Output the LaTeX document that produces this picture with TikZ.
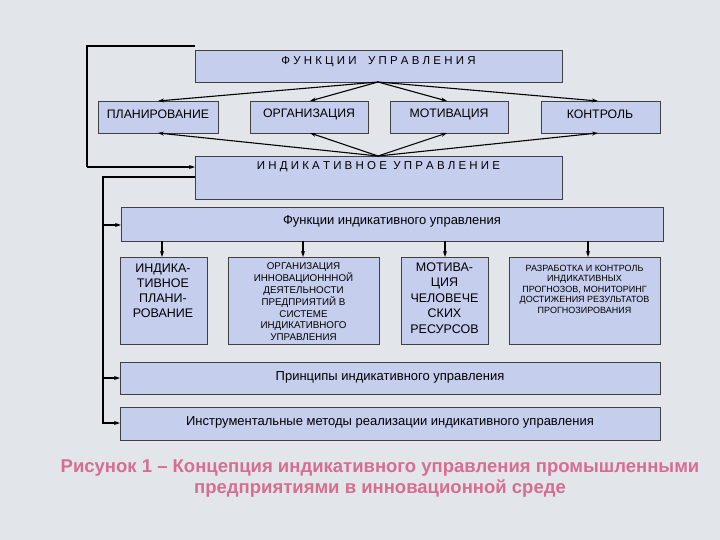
\documentclass[tikz,border=0pt]{standalone}
\usepackage{fontspec}
\setmainfont{Liberation Sans}
\usetikzlibrary{arrows.meta}
\definecolor{bg}{RGB}{226,230,234}
\definecolor{bx}{RGB}{198,206,238}
\definecolor{cap}{RGB}{214,110,145}
\begin{document}
\begin{tikzpicture}[x=1pt,y=-1pt,
  bxs/.style={draw=black!75,line width=0.7pt,fill=bx},
  arr/.style={-{Stealth[length=6pt,width=4pt]},line width=1.1pt},
  ln/.style={line width=1.1pt}]
\fill[bg] (0,0) rectangle (720,540);
\useasboundingbox (0,0) rectangle (720,540);
% top boxes
\draw[bxs] (195,50) rectangle (562,82);
\node (F) at (378.5,62) {\fontsize{11.5}{13}\selectfont Ф У Н К Ц И И\quad У П Р А В Л Е Н И Я};
\coordinate (Fb) at (378,82);
\draw[bxs] (98,101) rectangle (218,133); \node at (158,114) {\fontsize{12.3}{14}\selectfont ПЛАНИРОВАНИЕ};
\draw[bxs] (250,101) rectangle (368,133); \node at (309,114) {\fontsize{12.3}{14}\selectfont ОРГАНИЗАЦИЯ};
\draw[bxs] (390,101) rectangle (508,133); \node at (449,114) {\fontsize{12.3}{14}\selectfont МОТИВАЦИЯ};
\draw[bxs] (541,101) rectangle (660,133); \node at (600,114) {\fontsize{12.3}{14}\selectfont КОНТРОЛЬ};
\draw[bxs] (195,156) rectangle (562,199);
\node (I) at (378.5,167) {\fontsize{11.5}{13}\selectfont И Н Д И К А Т И В Н О Е\ \ У П Р А В Л Е Н И Е};
\coordinate (It) at (378,156);
\foreach \x in {158,310,447,598}{
  \draw[arr] (Fb) -- (\x,101);
  \draw[arr] (It) -- (\x,133);
}
% loops
\draw[ln] (195,46) -- (87,46) -- (87,167);
\draw[arr] (87,167) -- (195,167);
\draw[ln] (195,177) -- (103,177) -- (103,423);
% lower
\draw[bxs] (121,207) rectangle (663,241);
\node at (392,221) {\fontsize{13}{15}\selectfont Функции индикативного управления};
\draw[arr] (103,225) -- (121,225);
\foreach \x in {162,303,445,588} \draw[arr] (\x,241) -- (\x,257);
\draw[bxs] (120,257) rectangle (207,344);
\node[align=center,font=\fontsize{12.5}{15}\selectfont] at (163,291) {ИНДИКА-\\ТИВНОЕ\\ПЛАНИ-\\РОВАНИЕ};
\draw[bxs] (228,257) rectangle (379,344);
\node[align=center,font=\fontsize{9.8}{11.8}\selectfont] at (303.5,302) {ОРГАНИЗАЦИЯ\\ИННОВАЦИОНННОЙ\\ДЕЯТЕЛЬНОСТИ\\ПРЕДПРИЯТИЙ В\\СИСТЕМЕ\\ИНДИКАТИВНОГО\\УПРАВЛЕНИЯ};
\draw[bxs] (401,257) rectangle (488,344);
\node[align=center,font=\fontsize{12.5}{15.5}\selectfont] at (444.5,298) {МОТИВА-\\ЦИЯ\\ЧЕЛОВЕЧЕ\\СКИХ\\РЕСУРСОВ};
\draw[bxs] (509,257) rectangle (660,344);
\node[align=center,font=\fontsize{9}{10.5}\selectfont] at (584.5,289) {РАЗРАБОТКА И КОНТРОЛЬ\\ИНДИКАТИВНЫХ\\ПРОГНОЗОВ, МОНИТОРИНГ\\ДОСТИЖЕНИЯ РЕЗУЛЬТАТОВ\\ПРОГНОЗИРОВАНИЯ};
\draw[bxs] (120,362) rectangle (660,394);
\node at (390,377) {\fontsize{13}{15}\selectfont Принципы индикативного управления};
\draw[arr] (103,378) -- (120,378);
\draw[bxs] (120,407) rectangle (660,440);
\node at (390,422) {\fontsize{13}{15}\selectfont Инструментальные методы реализации индикативного управления};
\draw[arr] (102.45,423) -- (120,423);
\node[font=\bfseries\fontsize{18.5}{21}\selectfont,text=cap,align=center] at (380,479) {Рисунок 1 – Концепция индикативного управления промышленными\\предприятиями в инновационной среде};
\end{tikzpicture}
\end{document}
